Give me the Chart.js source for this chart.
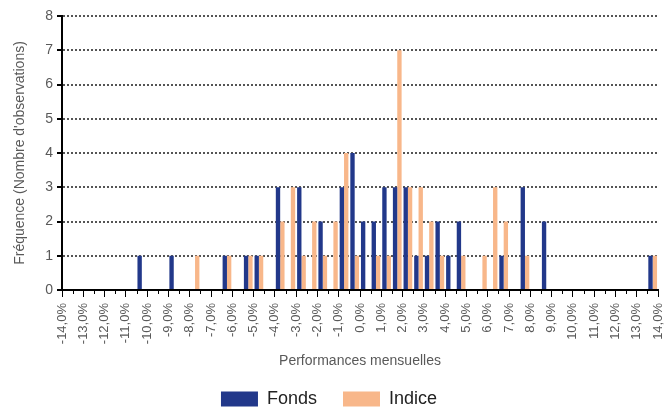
<!DOCTYPE html>
<html>
<head>
<meta charset="utf-8">
<script src="https://cdn.jsdelivr.net/npm/chart.js@4"></script>
<style>
  html, body { margin: 0; padding: 0; background: #fff; }
  #wrap { width: 672px; height: 408px; }
</style>
</head>
<body>
<div id="wrap"><canvas id="histo"></canvas></div>
<script>
// histogramme des performances mensuelles, classes de 0,5 %
const BIN_MIN = -14;
const BIN_WIDTH = 0.5;

// nombre d'observations par classe, de [-14,0 ; -13,5] a [13,5 ; 14,0]
const fonds = [
  0, 0, 0, 0, 0, 0, 0, 1, 0, 0, 1, 0, 0, 0,
  0, 1, 0, 1, 1, 0, 3, 0, 3, 0, 2, 0, 3, 4,
  2, 2, 3, 3, 3, 1, 1, 2, 1, 2, 0, 0, 0, 1,
  0, 3, 0, 2, 0, 0, 0, 0, 0, 0, 0, 0, 0, 1
];
const indice = [
  0, 0, 0, 0, 0, 0, 0, 0, 0, 0, 0, 0, 1, 0,
  0, 1, 0, 1, 1, 0, 2, 3, 1, 2, 1, 2, 4, 1,
  0, 1, 1, 7, 3, 3, 2, 1, 0, 1, 0, 1, 3, 2,
  0, 1, 0, 0, 0, 0, 0, 0, 0, 0, 0, 0, 0, 1
];

const seriesNames = ['Fonds', 'Indice'];
const seriesColors = ['#22388A', '#F8B78A'];

const binCenters = fonds.map((_, i) => BIN_MIN + BIN_WIDTH * (i + 0.5));
const toPoints = vals => vals.map((v, i) => ({ x: binCenters[i], y: v }));

const GREY = '#595959';
const FONT = 'Liberation Sans, Arial, sans-serif';

function fmtPct(v) {
  return v.toFixed(1).replace('.', ',') + '%';
}

// petites graduations intermediaires (0,5 %) sous l'axe des x
const minorTicks = {
  id: 'minorTicks',
  afterDraw(chart) {
    const xs = chart.scales.x;
    const c = chart.ctx;
    const y0 = chart.chartArea.bottom;
    c.save();
    c.strokeStyle = '#000';
    c.lineWidth = 1;
    xs.ticks.forEach(t => {
      if (Number.isInteger(t.value)) return;
      const px = Math.round(xs.getPixelForValue(t.value)) + 0.5;
      c.beginPath();
      c.moveTo(px, y0);
      c.lineTo(px, y0 + 4);
      c.stroke();
    });
    c.restore();
  }
};

new Chart(document.getElementById('histo'), {
  type: 'bar',
  data: {
    datasets: [
      { label: seriesNames[0], data: toPoints(fonds), backgroundColor: seriesColors[0] },
      { label: seriesNames[1], data: toPoints(indice), backgroundColor: seriesColors[1] }
    ]
  },
  options: {
    responsive: true,
    maintainAspectRatio: false,
    animation: false,
    categoryPercentage: 0.82,
    barPercentage: 1.0,
    layout: { padding: { left: 0, right: 14, top: 16, bottom: 0 } },
    plugins: {
      legend: {
        position: 'bottom',
        maxHeight: 44,
        labels: {
          boxWidth: 37,
          boxHeight: 15,
          padding: 26,
          color: '#222',
          font: { family: FONT, size: 18 }
        }
      },
      tooltip: { enabled: false }
    },
    scales: {
      x: {
        type: 'linear',
        min: -14,
        max: 14,
        offset: false,
        grid: {
          offset: false,
          drawOnChartArea: false,
          tickLength: 7,
          tickWidth: 1,
          tickColor: ctx => Number.isInteger(ctx.tick.value) ? '#000' : 'rgba(0,0,0,0)'
        },
        border: { color: '#000', width: 2 },
        ticks: {
          stepSize: 0.5,
          autoSkip: false,
          maxRotation: 90,
          minRotation: 90,
          padding: 6,
          color: GREY,
          font: { family: FONT, size: 13 },
          callback: v => Number.isInteger(v) ? fmtPct(v) : ''
        },
        title: {
          display: true,
          text: 'Performances mensuelles',
          color: GREY,
          font: { family: FONT, size: 14 },
          padding: { top: 4, bottom: -6 }
        },
        afterFit: s => {
          s.height = 74;
          s.paddingRight = 0;
          s.paddingLeft = 0;
        }
      },
      y: {
        min: 0,
        max: 8,
        grid: {
          color: '#555',
          lineWidth: 2,
          tickLength: 5,
          tickWidth: 2,
          tickColor: '#000',
          tickBorderDash: []
        },
        border: { color: '#000', width: 2, dash: [2, 2] },
        ticks: {
          stepSize: 1,
          padding: 4,
          color: GREY,
          font: { family: FONT, size: 14 }
        },
        title: {
          display: true,
          text: "Fréquence (Nombre d'observations)",
          color: GREY,
          font: { family: FONT, size: 14 },
          padding: { top: 12, bottom: 0 }
        },
        afterFit: s => { s.width = 62; }
      }
    }
  },
  plugins: [minorTicks]
});
</script>
</body>
</html>
